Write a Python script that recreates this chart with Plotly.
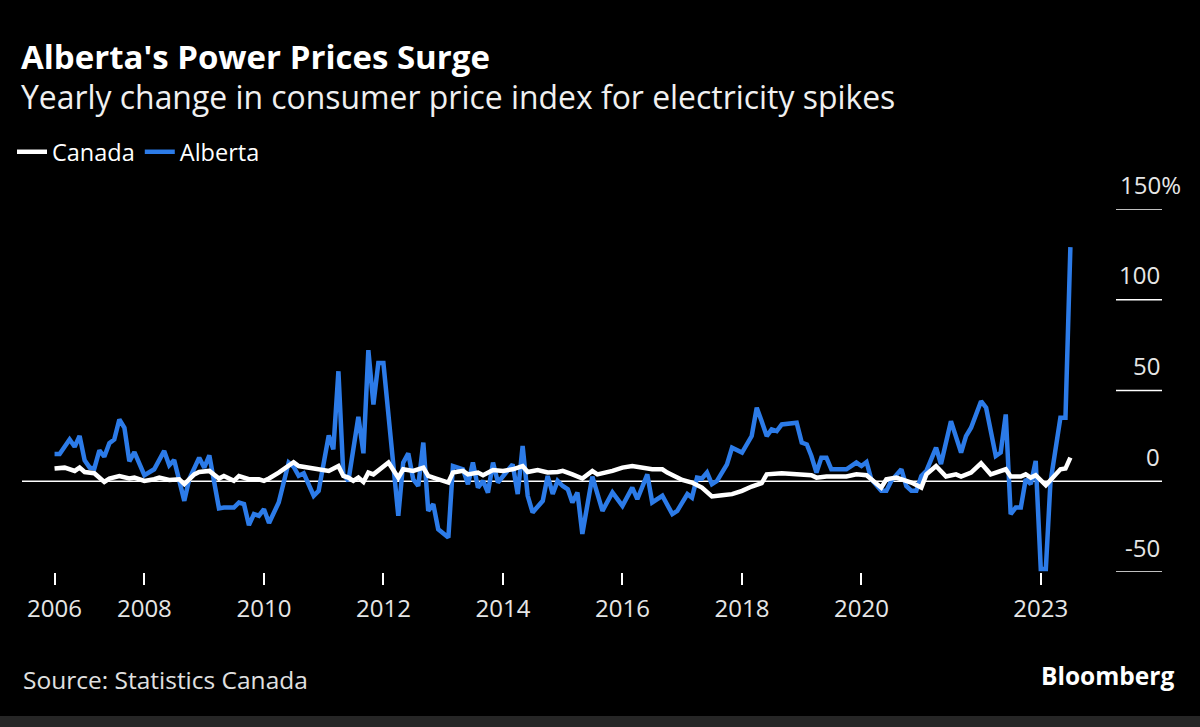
import plotly.graph_objects as go

# ---------------- data ----------------
canada_dates = ["2006-07", "2006-09", "2006-11", "2006-12", "2007-01", "2007-03", "2007-05", "2007-06", "2007-08", "2007-10",
                "2007-11", "2008-01", "2008-03", "2008-04", "2008-06", "2008-08", "2008-09", "2008-11", "2008-12", "2009-02",
                "2009-04", "2009-05", "2009-07", "2009-08", "2009-10", "2009-12", "2010-01", "2010-02", "2010-04", "2010-06",
                "2010-07", "2010-08", "2010-09", "2010-12", "2011-02", "2011-04", "2011-05", "2011-06", "2011-07", "2011-08",
                "2011-09", "2011-10", "2011-11", "2012-02", "2012-03", "2012-04", "2012-05", "2012-07", "2012-09", "2012-10",
                "2012-11", "2013-01", "2013-02", "2013-03", "2013-05", "2013-06", "2013-08", "2013-09", "2013-11", "2014-01",
                "2014-03", "2014-05", "2014-06", "2014-08", "2014-10", "2014-12", "2015-01", "2015-03", "2015-05", "2015-07",
                "2015-08", "2015-11", "2016-01", "2016-03", "2016-05", "2016-07", "2016-09", "2016-10", "2017-01", "2017-03",
                "2017-05", "2017-07", "2017-09", "2017-11", "2018-01", "2018-03", "2018-05", "2018-06", "2018-09", "2018-12",
                "2019-03", "2019-04", "2019-06", "2019-10", "2019-12", "2020-02", "2020-03", "2020-05", "2020-06", "2020-08",
                "2020-11", "2021-01", "2021-02", "2021-04", "2021-06", "2021-08", "2021-09", "2021-11", "2022-01", "2022-03",
                "2022-06", "2022-07", "2022-09", "2022-10", "2022-11", "2022-12", "2023-02", "2023-04", "2023-05", "2023-06",
                "2023-07"]
canada_vals = [7, 7.5, 5.7, 7.5, 5.1, 4.4, -0.4, 1.5, 2.9, 1.5,
               2, 0.2, 1.1, 2, 0.7, 1.1, -1.6, 3.8, 5.1, 5.7,
               1.5, 2.9, 0.2, 2.9, 1.1, 1.1, 0.2, 1.5, 4.8, 8.4,
               10.5, 8.4, 8, 6.6, 5.7, 8.4, 2.9, 2, 0.2, 2,
               -0.4, 4.8, 3.8, 10.3, 6.6, 2, 6.6, 5.7, 7.5, 2.9,
               2, 0.2, -0.7, 4.8, 5.7, 3.8, 4.8, 3.3, 6.2, 5.7,
               6.6, 8.4, 5.1, 6.2, 4.8, 5.1, 5.7, 3.8, 1.5, 5.7,
               3.8, 5.7, 7.5, 8.4, 7.5, 6.6, 6.6, 4.8, 0.7, -0.7,
               -3.5, -8.4, -7.7, -7.1, -5.3, -2.9, -1.1, 3.8, 4.4, 3.8,
               3.3, 2, 2.6, 2.6, 3.8, 3.3, 1.1, -3.5, 1.1, 2,
               -0.7, -3.5, 3.8, 8.4, 2.6, 3.8, 2.6, 4.8, 9.9, 3.8,
               6.6, 2.6, 2.6, 3.8, 2, 3.3, -2.2, 3.8, 6.6, 7,
               13]

alberta_dates = ["2006-07", "2006-08", "2006-10", "2006-11", "2006-12", "2007-01", "2007-02", "2007-03", "2007-04", "2007-05",
                 "2007-06", "2007-07", "2007-08", "2007-09", "2007-10", "2007-11", "2008-01", "2008-03", "2008-05", "2008-06",
                 "2008-07", "2008-08", "2008-09", "2008-10", "2008-12", "2009-01", "2009-02", "2009-04", "2009-05", "2009-07",
                 "2009-08", "2009-09", "2009-10", "2009-11", "2009-12", "2010-01", "2010-02", "2010-04", "2010-06", "2010-07",
                 "2010-08", "2010-09", "2010-11", "2010-12", "2011-02", "2011-03", "2011-04", "2011-05", "2011-06", "2011-08",
                 "2011-09", "2011-10", "2011-11", "2011-12", "2012-01", "2012-04", "2012-05", "2012-06", "2012-07", "2012-08",
                 "2012-09", "2012-10", "2012-11", "2012-12", "2013-01", "2013-02", "2013-03", "2013-05", "2013-06", "2013-07",
                 "2013-08", "2013-09", "2013-10", "2013-11", "2013-12", "2014-01", "2014-03", "2014-04", "2014-05", "2014-06",
                 "2014-07", "2014-09", "2014-10", "2014-11", "2014-12", "2015-01", "2015-02", "2015-03", "2015-04", "2015-05",
                 "2015-07", "2015-09", "2015-11", "2016-01", "2016-03", "2016-04", "2016-06", "2016-07", "2016-09", "2016-11",
                 "2016-12", "2017-02", "2017-03", "2017-04", "2017-05", "2017-06", "2017-07", "2017-08", "2017-10", "2017-11",
                 "2018-01", "2018-03", "2018-04", "2018-05", "2018-06", "2018-07", "2018-08", "2018-09", "2018-12", "2019-01",
                 "2019-02", "2019-03", "2019-04", "2019-05", "2019-06", "2019-07", "2019-10", "2019-12", "2020-01", "2020-02",
                 "2020-03", "2020-05", "2020-06", "2020-07", "2020-09", "2020-10", "2020-11", "2020-12", "2021-01", "2021-02",
                 "2021-04", "2021-05", "2021-07", "2021-09", "2021-10", "2021-11", "2022-01", "2022-02", "2022-04", "2022-05",
                 "2022-06", "2022-07", "2022-08", "2022-09", "2022-10", "2022-11", "2022-12", "2023-01", "2023-02", "2023-03",
                 "2023-05", "2023-06", "2023-07"]
alberta_vals = [15, 15, 23, 19, 25, 11.5, 7.5, 7, 17, 13.5,
                21, 23, 34, 29.5, 11, 16, 3.3, 6.6, 16.7, 8.8,
                11.7, -0.7, -10.8, 1.1, 13, 7.5, 14.3, -15, -14.5, -14.5,
                -11.7, -12.6, -24.2, -18.1, -19, -15.4, -23, -11.7, 10.3, 8,
                3, 4.4, -8, -5.3, 25.3, 17.6, 60.6, 3.8, 0.2, 35.5,
                15.4, 72.2, 42.3, 65.2, 65.2, -19, 10.3, 15.4, 1.1, -2.6,
                21.3, -16.3, -12.6, -26.4, -28.6, -31, 8.4, 6.6, -1.6, 10.3,
                -3.5, 0.2, -6.2, 10.3, -0.7, 2.9, 9.3, -7.1, 19.4, -8,
                -17.2, -10.8, 2.9, -7, 0.2, -2.6, -4.4, -11.7, -6.2, -29,
                2.6, -16.3, -6.2, -13.6, -3.5, -9.9, 3.8, -11.7, -8, -18.1,
                -16.3, -7.1, -9, 2, 1.5, 4.8, -1.6, 0.2, 9.3, 18.5,
                15.8, 24.9, 40.5, 33.1, 24.9, 28.6, 27.6, 31.3, 32.2, 21.3,
                20.3, 13.9, 4.8, 13, 13, 6.6, 6.6, 10.3, 8.4, 10.6,
                1.1, -5.3, -5.3, 0.2, 6.6, -2.6, -5.3, -5.3, 2.9, 5.7,
                18.5, 9.5, 33.1, 15.8, 24.9, 29.5, 44.1, 40.5, 13.9, 15.8,
                36.8, -18.1, -14.5, -14.5, 1.1, -1.6, 11.2, -48.4, -48.4, -0.7,
                35, 35, 129]

x_tick_dates = ["2006-07-01", "2008-01-01", "2010-01-01", "2012-01-01", "2014-01-01",
                "2016-01-01", "2018-01-01", "2020-01-01", "2023-01-01"]
x_tick_labels = ["2006", "2008", "2010", "2012", "2014", "2016", "2018", "2020", "2023"]
y_tick_vals = [-50, 0, 50, 100, 150]
y_tick_labels = ["-50", "0", "50", "100", "150%"]

# ---------------- layout helpers ----------------
W, H = 1200, 727
L, R, T, B = 22, 1162, 209, 572
FONT = "Open Sans"
BLUE = "#2C7BE8"


def pyp(y):
    return (B - y) / (B - T)


def pxp(x):
    return (x - L) / (R - L)


fig = go.Figure()
fig.add_trace(go.Scatter(x=alberta_dates, y=alberta_vals, mode="lines", name="Alberta",
                         line=dict(color=BLUE, width=4.5), legendrank=2))
fig.add_trace(go.Scatter(x=canada_dates, y=canada_vals, mode="lines", name="Canada",
                         line=dict(color="#FFFFFF", width=4.5), legendrank=1))

shapes = []
# zero line across the plot
shapes.append(dict(type="line", xref="paper", yref="y", x0=0, x1=1, y0=0, y1=0,
                   line=dict(color="#FFFFFF", width=1.5), layer="below"))
# short tick lines at the right
for v in y_tick_vals:
    if v == 0:
        continue
    shapes.append(dict(type="line", xref="paper", yref="y", x0=pxp(1116), x1=1, y0=v, y1=v,
                       line=dict(color="#FFFFFF", width=1.5), layer="below"))
# bottom gray band
shapes.append(dict(type="rect", xref="paper", yref="paper", x0=pxp(0), x1=pxp(W), y0=pyp(H), y1=pyp(716),
                   fillcolor="#262626", line=dict(width=0), layer="below"))

annotations = []
for v, t in zip(y_tick_vals, y_tick_labels):
    annotations.append(dict(x=1, xref="paper", y=v, yref="y", text=t, showarrow=False,
                            xanchor="right", yanchor="middle", yshift=25,
                            xshift=21 if t.endswith("%") else 0,
                            font=dict(family=FONT, size=24, color="#E6E6E6")))
annotations.append(dict(x=pxp(19), xref="paper", y=pyp(56), yref="paper", text="<b>Alberta's Power Prices Surge</b>",
                        showarrow=False, xanchor="left", yanchor="middle",
                        font=dict(family=FONT, size=33, color="#FFFFFF")))
annotations.append(dict(x=pxp(19), xref="paper", y=pyp(96), yref="paper",
                        text="Yearly change in consumer price index for electricity spikes",
                        showarrow=False, xanchor="left", yanchor="middle",
                        font=dict(family=FONT, size=31.9, color="#F0F0F0")))
annotations.append(dict(x=pxp(21), xref="paper", y=pyp(679), yref="paper", text="Source: Statistics Canada",
                        showarrow=False, xanchor="left", yanchor="middle",
                        font=dict(family=FONT, size=24.5, color="#E0E0E0")))
annotations.append(dict(x=pxp(1176), xref="paper", y=pyp(675), yref="paper", text="<b>Bloomberg</b>",
                        showarrow=False, xanchor="right", yanchor="middle",
                        font=dict(family=FONT, size=24.5, color="#FFFFFF")))

fig.update_layout(
    width=W, height=H,
    margin=dict(l=L, r=W - R, t=T, b=H - B, pad=0),
    paper_bgcolor="#000000", plot_bgcolor="#000000",
    font=dict(family=FONT, color="#E6E6E6"),
    showlegend=True,
    legend=dict(orientation="h", x=pxp(12), xanchor="left", y=pyp(152), yanchor="middle",
                font=dict(family=FONT, size=23.5, color="#FFFFFF"), bgcolor="rgba(0,0,0,0)",
                itemwidth=30, traceorder="normal"),
    xaxis=dict(type="date", range=["2005-12-14", "2025-01-11"], showgrid=False, zeroline=False,
               showline=False, tickmode="array", tickvals=x_tick_dates, ticktext=x_tick_labels,
               ticks="outside", ticklen=12, tickwidth=1.5, tickcolor="#FFFFFF", ticklabelstandoff=3,
               tickfont=dict(family=FONT, size=24, color="#E6E6E6")),
    yaxis=dict(range=[-50, 150], showgrid=False, zeroline=False, showline=False,
               showticklabels=False, ticks=""),
    shapes=shapes, annotations=annotations,
)

fig.write_html("out.html", config={"displayModeBar": False},
               post_script="document.body.style.margin='0';document.body.style.background='#000';")
